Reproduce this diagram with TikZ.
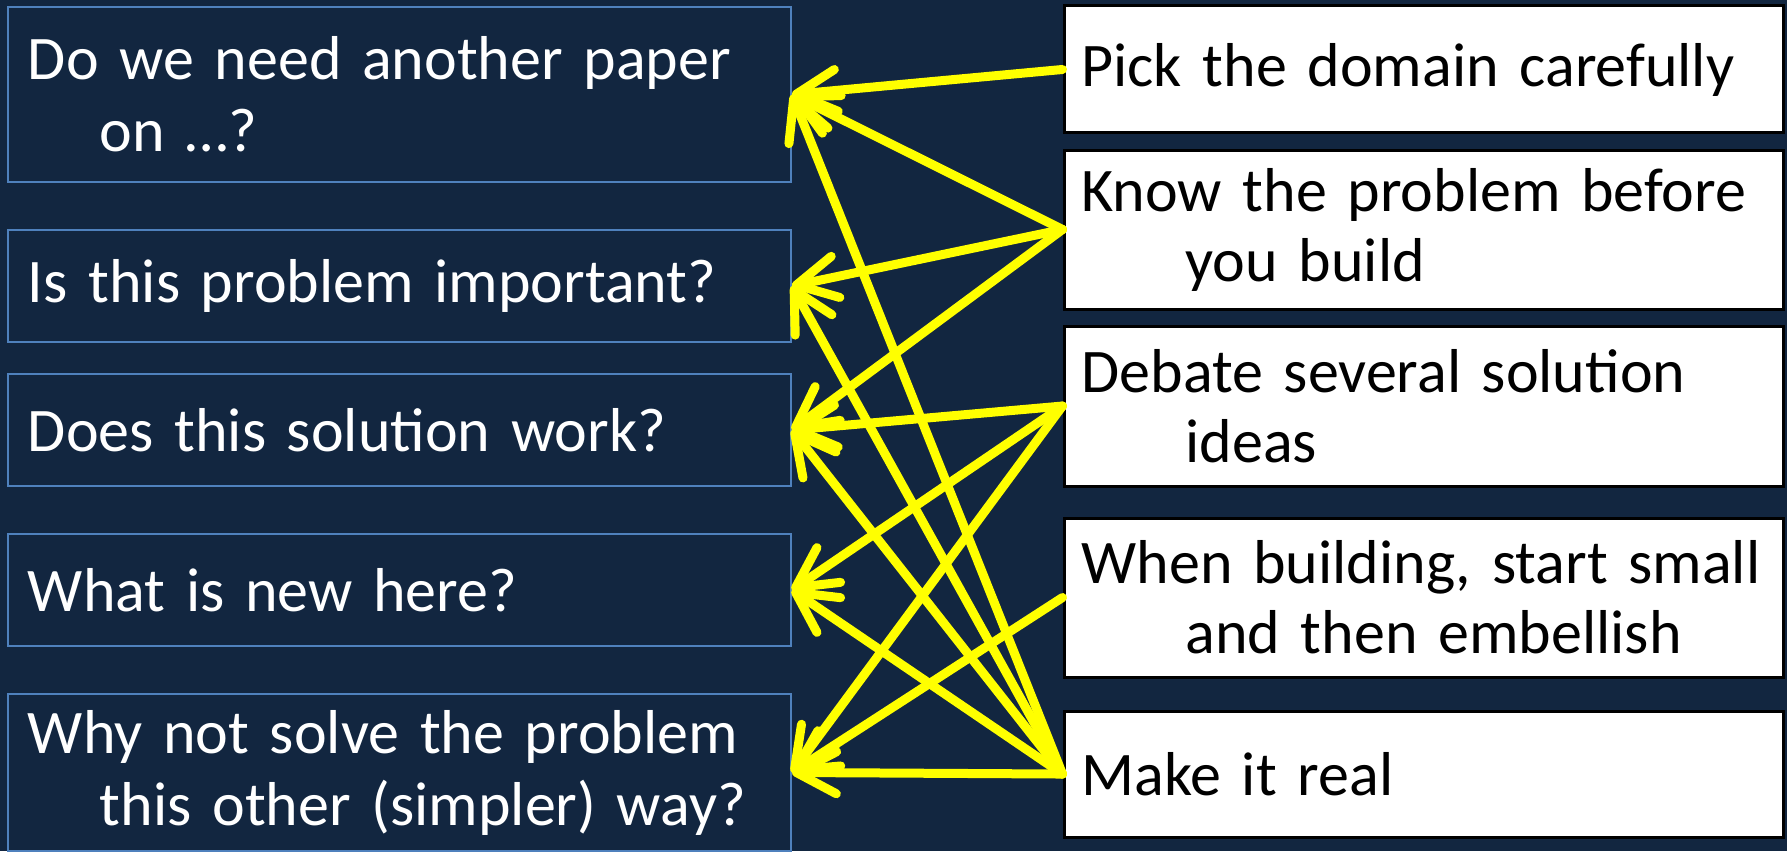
\documentclass[tikz,border=0pt]{standalone}
\usepackage{fontspec}
\setmainfont{Carlito}
\usetikzlibrary{arrows.meta}
\definecolor{slidebg}{RGB}{18,38,64}
\definecolor{qborder}{RGB}{79,129,189}
\definecolor{linkyellow}{RGB}{255,255,0}

\begin{document}
\begin{tikzpicture}[
  question/.style={draw=qborder,line width=1pt,fill=slidebg,text=white,minimum width=391.5pt,text width=371.5pt,inner xsep=10pt,align=left,font=\fontsize{31}{36}\selectfont},
  tip/.style={draw=black,line width=1.5pt,fill=white,text=black,minimum width=359.5pt,text width=342pt,inner xsep=8.75pt,align=left,font=\fontsize{31}{35}\selectfont},
  link/.style={draw=linkyellow,line width=4.5pt,line cap=round,-{Straight Barb[length=20pt,width=21pt,round]}}
]
\fill[slidebg] (0,0) rectangle (31.403,-14.955);
\useasboundingbox (0,0) rectangle (31.403,-14.955);

% questions
\node[question,minimum height=87.5pt] (q1) at (7.020,-1.661) {Do we need another paper\\\hspace*{36pt}on …?};
\node[question,minimum height=56pt] (q2) at (7.020,-5.026) {Is this problem important?};
\node[question,minimum height=56pt] (q3) at (7.020,-7.556) {Does this solution work?};
\node[question,minimum height=56pt] (q4) at (7.020,-10.368) {What is new here?};
\node[question,minimum height=78.5pt] (q5) at (7.020,-13.575) {Why not solve the problem\\\hspace*{36pt}this other (simpler) way?};

% tips
\node[tip,minimum height=63.5pt] (t1) at (25.015,-1.221) {Pick the domain carefully};
\node[tip,minimum height=79.5pt] (t2) at (25.015,-4.033) {Know the problem before\\\hspace*{52pt}you build};
\node[tip,minimum height=80pt] (t3) at (25.015,-7.135) {Debate several solution\\\hspace*{52pt}ideas};
\node[tip,minimum height=79.5pt] (t4) at (25.015,-10.500) {When building, start small\\\hspace*{52pt}and then embellish};
\node[tip,minimum height=63pt] (t5) at (25.015,-13.602) {Make it real};

\draw[link] (t1.west) -- (q1.east);
\draw[link] (t2.west) -- (q1.east);
\draw[link] (t2.west) -- (q2.east);
\draw[link] (t2.west) -- (q3.east);
\draw[link] (t3.west) -- (q3.east);
\draw[link] (t3.west) -- (q4.east);
\draw[link] (t3.west) -- (q5.east);
\draw[link] (t4.west) -- (q5.east);
\draw[link] (t5.west) -- (q1.east);
\draw[link] (t5.west) -- (q2.east);
\draw[link] (t5.west) -- (q3.east);
\draw[link] (t5.west) -- (q4.east);
\draw[link] (t5.west) -- (q5.east);
\end{tikzpicture}
\end{document}
